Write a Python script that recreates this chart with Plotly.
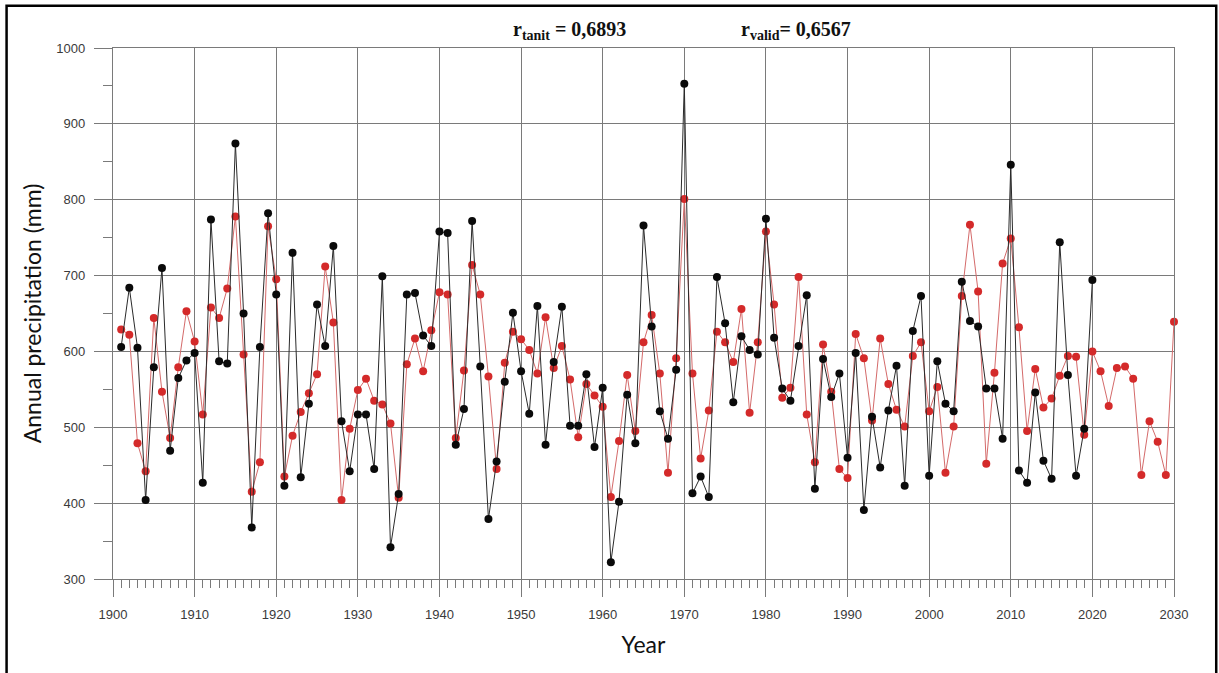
import plotly.graph_objects as go

# Observed annual precipitation (black), 1901-2020
obs_years = list(range(1901, 2021))
obs_precip = [
    606, 684, 605, 404, 579, 710, 469, 565, 588, 598,
    427, 774, 587, 584, 874, 650, 368, 606, 782, 675,
    423, 730, 434, 531, 662, 607, 739, 508, 442, 517,
    517, 445, 699, 342, 412, 675, 677, 621, 607, 758,
    756, 477, 524, 772, 580, 379, 455, 560, 651, 574,
    518, 660, 477, 586, 659, 502, 502, 570, 474, 552,
    322, 402, 543, 479, 766, 633, 521, 485, 576, 953,
    413, 435, 408, 698, 637, 533, 620, 602, 596, 775,
    618, 551, 535, 607, 674, 419, 590, 540, 571, 460,
    598, 391, 514, 447, 522, 581, 423, 627, 673, 436,
    587, 531, 521, 692, 640, 633, 551, 551, 485, 846,
    443, 427, 546, 456, 432, 744, 569, 436, 498, 694,
]

# Modelled annual precipitation (red), 1901-2030
mod_years = list(range(1901, 2031))
mod_precip = [
    629, 622, 479, 442, 644, 547, 486, 579, 653, 613,
    517, 658, 644, 683, 778, 596, 415, 454, 765, 695,
    435, 489, 520, 545, 570, 712, 638, 404, 498, 549,
    564, 535, 530, 505, 407, 583, 617, 574, 628, 678,
    675, 486, 575, 714, 675, 567, 445, 585, 626, 616,
    602, 571, 645, 578, 607, 563, 487, 557, 542, 527,
    408, 482, 569, 495, 612, 648, 571, 440, 591, 801,
    571, 459, 522, 626, 612, 586, 656, 519, 612, 758,
    662, 539, 552, 698, 517, 454, 609, 547, 445, 433,
    623, 591, 509, 617, 557, 523, 501, 594, 612, 521,
    553, 440, 501, 673, 767, 679, 452, 572, 716, 749,
    632, 495, 577, 526, 538, 568, 594, 593, 490, 600,
    574, 528, 578, 580, 564, 437, 508, 481, 437, 639,
]

x_ticks = list(range(1900, 2031, 10))
y_ticks = list(range(300, 1001, 100))

r_tanit = "0,6893"
r_valid = "0,6567"

GRID = "#7a7a7a"
TICKFONT = dict(family="Liberation Sans, Arial, sans-serif", size=13, color="#3a3a3a")
TITLEFONT = dict(family="Lato, Carlito, sans-serif", size=23, color="#111111")

fig = go.Figure()

fig.add_trace(go.Scatter(
    x=mod_years, y=mod_precip, mode="lines+markers",
    line=dict(color="#d46a6a", width=1),
    marker=dict(color="#d42a2a", size=8),
    cliponaxis=False, showlegend=False,
))
fig.add_trace(go.Scatter(
    x=obs_years, y=obs_precip, mode="lines+markers",
    line=dict(color="#2a2a2a", width=1),
    marker=dict(color="#0a0a0a", size=8),
    cliponaxis=False, showlegend=False,
))

fig.update_xaxes(
    range=[1900, 2030], tickvals=x_ticks, ticktext=[str(v) for v in x_ticks],
    showgrid=True, gridcolor=GRID, gridwidth=1.4,
    showline=True, linecolor=GRID, linewidth=1.4, mirror=True,
    ticks="outside", ticklen=17, tickcolor=GRID, tickwidth=1.4,
    ticklabelstandoff=6,
    minor=dict(dtick=1, ticks="outside", ticklen=8, tickcolor=GRID, tickwidth=1, showgrid=False),
    tickfont=TICKFONT, zeroline=False,
    title=dict(text="Year", font=TITLEFONT, standoff=16),
)
fig.update_yaxes(
    range=[300, 1000], tickvals=y_ticks, ticktext=[str(v) for v in y_ticks],
    showgrid=True, gridcolor=GRID, gridwidth=1.4,
    showline=True, linecolor=GRID, linewidth=1.4, mirror=True,
    ticks="outside", ticklen=18, tickcolor=GRID, tickwidth=1.4,
    ticklabelstandoff=6,
    minor=dict(dtick=50, ticks="outside", ticklen=9, tickcolor=GRID, tickwidth=1, showgrid=False),
    tickfont=TICKFONT, zeroline=False,
    title=dict(text="Annual precipitation (mm)", font=TITLEFONT, standoff=8),
)

ann_font = dict(family="Liberation Serif, Times New Roman, serif", size=20, color="#111111")
fig.add_annotation(
    xref="paper", yref="paper", x=0.375, y=1.005, xanchor="left", yanchor="bottom",
    text=f"<b>r<sub>tanit</sub> = {r_tanit}</b>", showarrow=False, font=ann_font,
)
fig.add_annotation(
    xref="paper", yref="paper", x=0.590, y=1.005, xanchor="left", yanchor="bottom",
    text=f"<b>r<sub>valid</sub>= {r_valid}</b>", showarrow=False, font=ann_font,
)

# Outer frame around the figure
fig.add_shape(
    type="rect", xref="paper", yref="paper",
    x0=-0.1003, x1=1.0398, y0=-0.20, y1=1.0795,
    line=dict(color="#000000", width=2.5), fillcolor="rgba(0,0,0,0)",
)

fig.update_layout(
    width=1219, height=673,
    margin=dict(l=113, r=45, t=48, b=94),
    paper_bgcolor="white", plot_bgcolor="white",
)

fig.write_html("out.html")
